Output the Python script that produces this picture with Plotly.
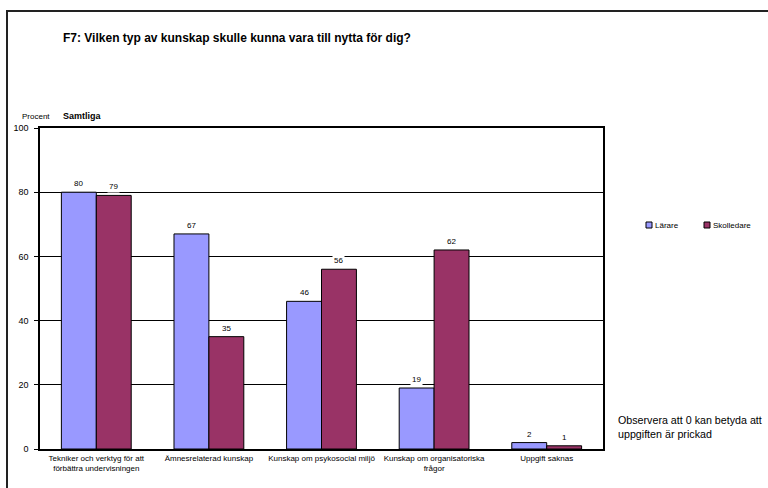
import plotly.graph_objects as go

categories = ["Tekniker och verktyg för att<br>förbättra undervisningen",
              "Ämnesrelaterad kunskap",
              "Kunskap om psykosocial miljö",
              "Kunskap om organisatoriska<br>frågor",
              "Uppgift saknas"]
larare = [80, 67, 46, 19, 2]
skolledare = [79, 35, 56, 62, 1]
series_names = ["Lärare", "Skolledare"]
colors = ["#9999FF", "#993366"]

FONT = "Liberation Sans, Arial, sans-serif"
L, R, T, B = 40, 165, 128, 39
W, H = 768, 488
pw = W - L - R
ph = H - T - B
BARGAP = 0.38
bar_px = pw / len(categories) * (1 - BARGAP) / 2

def px(x):
    return (x - L) / pw

def py(y):
    return (H - B - y) / ph

fig = go.Figure()
annotations = []
for i, (name, vals, col) in enumerate(zip(series_names, [larare, skolledare], colors)):
    fig.add_trace(go.Bar(
        x=categories, y=vals, name=name,
        marker=dict(color=col, line=dict(color="#000000", width=1)),
    ))
    shift = (i - 0.5) * bar_px
    for c, v in zip(categories, vals):
        annotations.append(dict(
            text=str(v), x=c, y=v, xref="x", yref="y", xanchor="center", yanchor="bottom",
            xshift=shift, yshift=2, showarrow=False, bgcolor="white", borderpad=1,
            font=dict(size=8, color="#000000")))

fig.update_layout(
    width=W, height=H,
    margin=dict(l=L, r=R, t=T, b=B, autoexpand=False),
    paper_bgcolor="white", plot_bgcolor="white",
    font=dict(family=FONT, color="#000000", size=9),
    barmode="group", bargap=BARGAP, bargroupgap=0,
    showlegend=False,
    xaxis=dict(showline=True, linecolor="#000000", linewidth=2, mirror=True,
               tickfont=dict(size=8), ticks="", showgrid=False, tickangle=0,
               automargin=False),
    yaxis=dict(range=[0, 100], dtick=20, showline=True, linecolor="#000000", linewidth=1.5,
               mirror=True, ticks="outside", ticklen=4, tickcolor="#000000",
               showgrid=True, gridcolor="#000000", gridwidth=1, tickfont=dict(size=9),
               ticklabelstandoff=4, zeroline=False, automargin=False),
)

texts = [
    dict(text="<b>F7: Vilken typ av kunskap skulle kunna vara till nytta för dig?</b>",
         x=px(61), y=py(38), xanchor="left", yanchor="middle", font=dict(size=12)),
    dict(text="Procent", x=px(20), y=py(116), xanchor="left", yanchor="middle", font=dict(size=8)),
    dict(text="<b>Samtliga</b>", x=px(61), y=py(116), xanchor="left", yanchor="middle", font=dict(size=9)),
    dict(text="Observera att 0 kan betyda att<br>uppgiften är prickad", x=px(616), y=py(427),
         xanchor="left", yanchor="middle", align="left", font=dict(size=10.7)),
]
# manual legend
leg_x = [646, 704]
for name, col, lx in zip(series_names, colors, leg_x):
    fig.add_shape(type="rect", xref="paper", yref="paper",
                  x0=px(lx), x1=px(lx + 6), y0=py(228), y1=py(222),
                  fillcolor=col, line=dict(color="#000000", width=1))
    texts.append(dict(text=name, x=px(lx + 7), y=py(225), xanchor="left", yanchor="middle",
                      font=dict(size=8)))
for a in texts:
    a.update(xref="paper", yref="paper", showarrow=False)
fig.update_layout(annotations=annotations + texts)

fig.add_shape(type="rect", xref="paper", yref="paper",
              x0=px(7), y0=py(495), x1=px(775), y1=py(11),
              line=dict(color="#222222", width=2), layer="above")

fig.write_html("out.html")
